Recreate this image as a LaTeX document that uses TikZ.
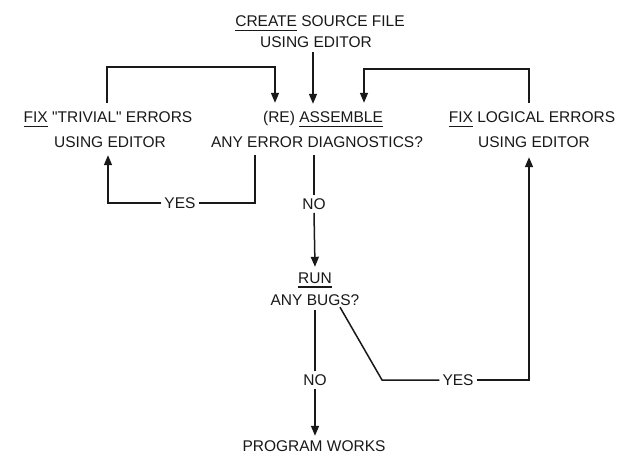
\documentclass[tikz,border=0pt]{standalone}
\usepackage{fontspec}
\setmainfont{Liberation Sans}[Ligatures=TeXOff]
\usetikzlibrary{arrows.meta,calc}
\newcommand\ulw[1]{\setbox0=\hbox{#1}\rlap{\rule[-4.5pt]{\wd0}{1.3pt}}\box0\relax}
\begin{document}
\begin{tikzpicture}[x=1pt,y=-1pt,
  every node/.style={font=\fontsize{15.5}{18}\selectfont, text=black!90},
  txt/.style={anchor=base, inner sep=0pt, text height=11.5pt, text depth=0pt},
  lbl/.style={anchor=center, inner sep=3pt, text height=11.5pt, text depth=0pt},
  conn/.style={line width=1.5pt, black!90},
  arr/.style={conn, -{Triangle[width=8pt,length=10pt]}}]
\useasboundingbox[fill=white] (0,0) rectangle (628,454);
% texts
\node[txt] (c1) at (320,27) {\ulw{CREATE} SOURCE FILE};
\node[txt] (c2) at (316,48) {USING EDITOR};
\node[txt] (a1) at (323,123) {(RE) \ulw{ASSEMBLE}};
\node[txt] (a2) at (317,148) {ANY ERROR DIAGNOSTICS?};
\node[txt] (t1) at (108,123) {\ulw{FIX} "TRIVIAL" ERRORS};
\node[txt] (t2) at (110,148) {USING EDITOR};
\node[txt] (l1) at (532,123) {\ulw{FIX} LOGICAL ERRORS};
\node[txt] (l2) at (534,148) {USING EDITOR};
\node[txt] (r1) at (315,283) {\ulw{RUN}};
\node[txt] (r2) at (315,305) {ANY BUGS?};
\node[txt] (p) at (314,451) {PROGRAM WORKS};
% labels
\node[lbl] (yes1) at (180,203) {YES};
\node[lbl] (no1) at (314,204) {NO};
\node[lbl] (no2) at (315,380) {NO};
\node[lbl] (yes2) at (458,380) {YES};
% create -> assemble
\draw[arr] ($(c2.south)+(-3,4)$) -- ($(a1.north)+(-10,-7.5)$);
% trivial loop
\draw[arr] ($(t1.north)+(-1,-8.5)$) -- ++(0,-36) -| ($(a1.north)+(-48,-8.5)$);
% logical loop
\draw[arr] ($(l1.north)+(-3,-8.5)$) -- ++(0,-34) -| ($(a1.north)+(41,-8.5)$);
% error yes loop
\draw[conn] ($(a2.south)+(-62,7)$) |- (yes1.east);
\draw[arr] (yes1.west) -| ($(t2.south)+(-2,7)$);
% no 1
\draw[conn] ($(a2.south)+(-3,7)$) -- (no1.north -| 314,0);
\draw[arr] (no1.south) -- ($(r1.north)+(0,-4.5)$);
% no 2
\draw[conn] ($(r2.south)+(0,5)$) -- (no2.north);
\draw[arr] (no2.south) -- ($(p.north)+(1,-3.5)$);
% bugs yes loop
\draw[conn] ($(r2.south)+(25,2)$) -- (382,380) -- (yes2.west);
\draw[arr] (yes2.east) -| ($(l2.south)+(-5,9)$);
\end{tikzpicture}
\end{document}
